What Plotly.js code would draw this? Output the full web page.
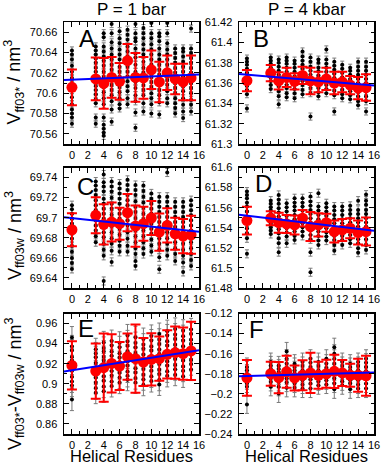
<!DOCTYPE html>
<html><head><meta charset="utf-8">
<script src="https://cdn.plot.ly/plotly-3.0.1.min.js"></script>
<style>html,body{margin:0;padding:0;background:#fff}#chart{width:382px;height:465px}</style>
</head><body><div id="chart"></div>
<script>
// ---------- DATA ----------
const residues = [0,3,4,5,6,7,8,9,10,11,12,13,14,15];
const xTicks = [0,2,4,6,8,10,12,14,16];
const fitX = [-1, 16];

// Panel A: V_ff03*, P = 1 bar
const redA = [70.6057,70.614,70.6096,70.6155,70.6116,70.632,70.6155,70.615,70.623,70.611,70.620,70.614,70.611,70.615];
const redErrA = [0.0175,0.021,0.025,0.020,0.018,0.0164,0.024,0.0205,0.019,0.020,0.017,0.015,0.018,0.022];
const fitA = [70.613, 70.6183];
const blackA = [
 [70.642,70.638,70.633,70.627,70.621,70.615,70.609,70.603,70.596,70.589,70.584,70.580,70.576,70.570],
 [70.646,70.642,70.638,70.634,70.630,70.625,70.621,70.617,70.612,70.607,70.603,70.599,70.594,70.590,70.576,70.570],
 [70.659,70.655,70.646,70.641,70.636,70.632,70.627,70.621,70.616,70.611,70.606,70.601,70.595,70.589,70.576,70.569,70.565,70.561,70.558],
 [70.668,70.659,70.650,70.644,70.638,70.633,70.628,70.623,70.618,70.613,70.608,70.603,70.598,70.592,70.584,70.572],
 [70.661,70.654,70.649,70.643,70.638,70.633,70.626,70.621,70.616,70.611,70.606,70.601,70.595,70.589,70.585],
 [70.6625,70.6575,70.6526,70.646,70.641,70.636,70.631,70.626,70.621,70.6165,70.6116,70.6067,70.6018,70.595,70.589],
 [70.668,70.659,70.654,70.651,70.644,70.639,70.635,70.628,70.621,70.6165,70.611,70.605,70.598,70.592,70.581,70.566],
 [70.664,70.659,70.654,70.648,70.643,70.638,70.631,70.625,70.620,70.615,70.608,70.603,70.598,70.590,70.582],
 [70.669,70.659,70.654,70.648,70.643,70.638,70.633,70.628,70.621,70.616,70.611,70.606,70.600,70.595,70.589,70.580],
 [70.659,70.656,70.651,70.644,70.638,70.633,70.628,70.623,70.618,70.613,70.608,70.603,70.598,70.591,70.579],
 [70.669,70.659,70.649,70.643,70.638,70.633,70.628,70.623,70.618,70.613,70.608,70.602,70.595,70.590],
 [70.644,70.6395,70.6346,70.630,70.6247,70.620,70.6149,70.610,70.605,70.600,70.595,70.590,70.5854,70.580],
 [70.644,70.641,70.636,70.631,70.626,70.621,70.6165,70.6116,70.6067,70.6018,70.595,70.5887,70.582,70.5755],
 [70.6635,70.644,70.6395,70.6346,70.630,70.6247,70.620,70.615,70.610,70.605,70.600,70.5936,70.5887,70.582]
];

// Panel B: V_ff03*, P = 4 kbar
const redB = [61.3623,61.3698,61.362,61.3655,61.3616,61.3675,61.362,61.361,61.364,61.360,61.361,61.358,61.355,61.3555];
const redErrB = [0.0105,0.008,0.0085,0.0095,0.008,0.0085,0.013,0.010,0.011,0.011,0.010,0.009,0.011,0.013];
const fitB = [61.3688, 61.3575];
const blackB = [
 [61.384,61.381,61.378,61.374,61.370,61.366,61.362,61.357,61.353,61.349,61.335],
 [61.385,61.382,61.379,61.375,61.372,61.369,61.3655,61.362,61.358,61.354],
 [61.383,61.380,61.376,61.372,61.368,61.364,61.360,61.357,61.352,61.347,61.339],
 [61.385,61.382,61.379,61.375,61.371,61.3665,61.362,61.358,61.355,61.350,61.346],
 [61.382,61.379,61.375,61.371,61.3665,61.362,61.358,61.354,61.350,61.345],
 [61.391,61.386,61.382,61.378,61.374,61.370,61.3655,61.362,61.358,61.353,61.349],
 [61.385,61.381,61.376,61.372,61.368,61.363,61.359,61.355,61.350,61.327],
 [61.383,61.380,61.375,61.3715,61.3675,61.363,61.359,61.355,61.351,61.347],
 [61.393,61.383,61.379,61.375,61.371,61.3665,61.362,61.358,61.354,61.350],
 [61.381,61.377,61.373,61.369,61.365,61.361,61.357,61.3525,61.348,61.332],
 [61.378,61.374,61.370,61.3655,61.3616,61.3577,61.3534,61.349,61.345],
 [61.375,61.372,61.368,61.364,61.360,61.3557,61.352,61.348,61.344],
 [61.381,61.376,61.372,61.368,61.364,61.360,61.356,61.351,61.347,61.342,61.338],
 [61.381,61.376,61.372,61.368,61.364,61.360,61.356,61.352,61.347,61.342,61.332]
];

// Panel C: V_ff03w, P = 1 bar
const redC = [69.688,69.7024,69.6934,69.6957,69.694,69.705,69.6917,69.694,69.6997,69.6856,69.6923,69.684,69.6816,69.683];
const redErrC = [0.0165,0.018,0.020,0.0195,0.016,0.0185,0.0205,0.017,0.017,0.0185,0.017,0.016,0.017,0.019];
const fitC = [69.7005, 69.686];
const blackC = [
 [69.7125,69.7085,69.704,69.699,69.694,69.689,69.684,69.679,69.672,69.666,69.660,69.655,69.649],
 [69.736,69.732,69.7276,69.7225,69.7175,69.7125,69.7075,69.7024,69.6974,69.6923,69.6873,69.6816,69.6756],
 [69.743,69.7353,69.731,69.726,69.719,69.714,69.709,69.704,69.699,69.6923,69.6856,69.6806,69.674,69.668,69.662,69.637],
 [69.736,69.731,69.726,69.720,69.714,69.709,69.703,69.6974,69.6917,69.6856,69.6796,69.674,69.667,69.656],
 [69.734,69.729,69.724,69.719,69.714,69.709,69.704,69.699,69.694,69.689,69.683,69.677,69.672,69.666],
 [69.7377,69.7326,69.7276,69.7225,69.7175,69.7125,69.7075,69.7024,69.6974,69.6923,69.6856,69.679,69.672,69.666],
 [69.7326,69.7276,69.7225,69.7165,69.7108,69.7058,69.6997,69.694,69.6873,69.6816,69.6756,69.6695,69.6638,69.657,69.652],
 [69.732,69.7266,69.7209,69.7152,69.7098,69.704,69.6984,69.693,69.6873,69.6816,69.6756,69.6695,69.6638],
 [69.7242,69.719,69.714,69.709,69.704,69.699,69.694,69.689,69.684,69.6783,69.6722,69.666],
 [69.7209,69.7158,69.7108,69.7058,69.7007,69.6957,69.6907,69.6856,69.6796,69.674,69.668,69.6605,69.6487],
 [69.745,69.7209,69.7158,69.7108,69.7058,69.7007,69.6957,69.6907,69.6856,69.6796,69.674,69.668,69.662],
 [69.7158,69.7108,69.7058,69.7007,69.6957,69.6907,69.6856,69.6806,69.6756,69.6695,69.6638,69.657],
 [69.7158,69.7108,69.7058,69.7007,69.6957,69.6907,69.6856,69.6796,69.674,69.668,69.662,69.6554,69.646],
 [69.7175,69.7125,69.7075,69.7024,69.6974,69.6923,69.6873,69.6816,69.6756,69.6695,69.6638,69.658,69.652]
];

// Panel D: V_ff03w, P = 4 kbar
const redD = [61.5471,61.5495,61.545,61.5438,61.5428,61.5495,61.5412,61.5428,61.545,61.5362,61.5378,61.5395,61.5352,61.5362];
const redErrD = [0.0137,0.007,0.010,0.009,0.0095,0.0083,0.0145,0.0116,0.009,0.011,0.011,0.010,0.012,0.014];
const fitD = [61.553, 61.537];
const blackD = [
 [61.576,61.5727,61.5694,61.565,61.5611,61.5561,61.5511,61.5452,61.5395,61.5345,61.5295,61.514],
 [61.567,61.5638,61.5604,61.5571,61.5538,61.5505,61.5471,61.5438,61.5405,61.5372,61.5338],
 [61.5727,61.5678,61.5638,61.5594,61.5551,61.5511,61.5471,61.5428,61.5385,61.5345,61.5295,61.5245,61.5157],
 [61.5644,61.5604,61.5561,61.5518,61.5478,61.5438,61.5395,61.5352,61.5312,61.5245],
 [61.5694,61.565,61.5611,61.5571,61.5528,61.5485,61.5445,61.5405,61.5362,61.5319,61.5279],
 [61.5694,61.565,61.5611,61.5571,61.5528,61.5485,61.5445,61.5405,61.5362,61.5319],
 [61.5711,61.5661,61.5618,61.5578,61.5538,61.5495,61.5452,61.5412,61.5372,61.5329,61.5285,61.5157,61.4957],
 [61.5744,61.5611,61.5571,61.5528,61.5485,61.5445,61.5405,61.5362,61.5319,61.5272,61.5229],
 [61.5644,61.5604,61.5561,61.5518,61.5478,61.5438,61.5395,61.5352,61.5312,61.5272],
 [61.5611,61.5571,61.5528,61.5485,61.5445,61.5405,61.5362,61.5319,61.5279,61.5229,61.5172],
 [61.5611,61.5571,61.5528,61.5485,61.5445,61.5405,61.5362,61.5319,61.5279,61.5229],
 [61.5618,61.5578,61.5538,61.5495,61.5452,61.5412,61.5372,61.5329,61.5285,61.5245],
 [61.567,61.5578,61.5538,61.5495,61.5452,61.5412,61.5372,61.5329,61.5285,61.5245,61.5196,61.5152],
 [61.573,61.567,61.5628,61.5578,61.5538,61.5495,61.5452,61.5412,61.5372,61.5329,61.5285,61.5229,61.5179]
];

// Panel E: V_ff03* - V_ff03w, P = 1 bar
const redE = [0.9183,0.9127,0.916,0.9203,0.9177,0.927,0.925,0.9217,0.9243,0.925,0.9293,0.931,0.930,0.9327];
const redErrE = [0.024,0.0275,0.034,0.029,0.024,0.023,0.034,0.024,0.026,0.022,0.024,0.026,0.026,0.029];
const fitE = [0.9122, 0.9333];
const blackE = [
 [0.946,0.9372,0.9331,0.9268,0.9231,0.9174,0.9129,0.9071,0.9024,0.8982,0.8843],
 [0.9343,0.9302,0.9264,0.9208,0.9163,0.9105,0.9062,0.9011,0.8957,0.8912],
 [0.9412,0.9357,0.9321,0.9266,0.9229,0.9171,0.9133,0.9074,0.9031,0.8972,0.8926],
 [0.9425,0.9381,0.9322,0.9279,0.9231,0.9169,0.9128,0.9081,0.9022,0.8979],
 [0.9408,0.9363,0.9305,0.9262,0.9214,0.9157,0.9109,0.9062,0.9012],
 [0.9481,0.9422,0.9379,0.9323,0.9281,0.9225,0.9182,0.9123,0.9079,0.9041],
 [0.9463,0.9405,0.9364,0.9306,0.9258,0.9214,0.9156,0.9112,0.9057,0.9013],
 [0.9445,0.9389,0.9348,0.9291,0.9246,0.9189,0.9147,0.9091,0.9046,0.8991],
 [0.9476,0.9431,0.9372,0.9331,0.9274,0.9232,0.9173,0.9131,0.9074,0.9028],
 [0.9495,0.9438,0.9397,0.9341,0.9297,0.9238,0.9196,0.9139,0.9097,0.9041,0.8994],
 [0.9524,0.9481,0.9423,0.9381,0.9323,0.9281,0.9224,0.9181,0.9124,0.9079],
 [0.9546,0.9489,0.9447,0.9389,0.9347,0.9289,0.9247,0.9188,0.9146,0.9091],
 [0.9528,0.9474,0.9431,0.9373,0.9331,0.9272,0.9231,0.9172,0.9131,0.9074],
 [0.9541,0.9497,0.9439,0.9396,0.9338,0.9297,0.9238,0.9196,0.9142]
];

// Panel F: V_ff03* - V_ff03w, P = 4 kbar
const redF = [-0.1842,-0.180,-0.1838,-0.178,-0.1842,-0.1815,-0.1792,-0.1815,-0.180,-0.1776,-0.1792,-0.1815,-0.1815,-0.182];
const redErrF = [0.0178,0.012,0.0155,0.016,0.0125,0.015,0.020,0.0135,0.014,0.0165,0.013,0.0115,0.0165,0.020];
const fitF = [-0.1824, -0.1788];
const blackF = [
 [-0.1733,-0.1766,-0.1799,-0.1832,-0.1865,-0.1897,-0.193,-0.2105],
 [-0.1684,-0.1717,-0.175,-0.1782,-0.1815,-0.1848,-0.1881,-0.193],
 [-0.1717,-0.175,-0.1782,-0.1815,-0.1848,-0.1881,-0.193,-0.1996],
 [-0.1578,-0.165,-0.170,-0.1743,-0.1782,-0.1815,-0.1848,-0.1888,-0.194],
 [-0.170,-0.1733,-0.1766,-0.1799,-0.1832,-0.1865,-0.1897,-0.194],
 [-0.1684,-0.1723,-0.1766,-0.1799,-0.1832,-0.1865,-0.1907,-0.1947],
 [-0.1651,-0.169,-0.1733,-0.1776,-0.1815,-0.1855,-0.1897,-0.1947],
 [-0.1684,-0.1723,-0.1766,-0.1799,-0.1832,-0.1875,-0.1914],
 [-0.1651,-0.170,-0.1743,-0.1782,-0.1822,-0.1865,-0.1907],
 [-0.1536,-0.1601,-0.1651,-0.170,-0.1749,-0.1799,-0.1848,-0.1897,-0.1955],
 [-0.1684,-0.1723,-0.1766,-0.1799,-0.1832,-0.1875,-0.1914],
 [-0.170,-0.1733,-0.1766,-0.1799,-0.1832,-0.1865,-0.1897,-0.1955],
 [-0.1684,-0.1723,-0.1766,-0.1799,-0.1832,-0.1865,-0.1907,-0.1947],
 [-0.1651,-0.169,-0.1733,-0.1776,-0.1815,-0.1855,-0.1897,-0.1947]
];

const blackErr = [0.0035, 0.0035, 0.004, 0.004, 0.011, 0.009];
const yRanges = [[70.55,70.67],[61.30,61.42],[69.63,69.75],[61.48,61.60],[0.85,0.97],[-0.24,-0.12]];
const panelLetters = ['A','B','C','D','E','F'];
const colTitles = ['P = 1 bar','P = 4 kbar'];
const yTitles = ['V<sub>ff03*</sub> / nm<sup>3</sup>','V<sub>ff03w</sub> / nm<sup>3</sup>','V<sub>ff03*</sub>-V<sub>ff03w</sub> / nm<sup>3</sup>'];
const xTitle = 'Helical Residues';

// ---------- LAYOUT / DRAWING ----------
const W = 382, H = 465;
const colPx = [[64,199],[239,374]];
const rowPx = [[22,144],[167.5,288],[313.5,434]];
const panels = [
  {black: blackA, red: redA, err: redErrA, fit: fitA},
  {black: blackB, red: redB, err: redErrB, fit: fitB},
  {black: blackC, red: redC, err: redErrC, fit: fitC},
  {black: blackD, red: redD, err: redErrD, fit: fitD},
  {black: blackE, red: redE, err: redErrE, fit: fitE},
  {black: blackF, red: redF, err: redErrF, fit: fitF}
];
const FONT = 'Liberation Sans, Arial, Helvetica, sans-serif';
const px = v => v / W, py = v => 1 - v / H;

const traces = [];
const layout = {
  width: W, height: H, margin: {l:0, r:0, t:0, b:0},
  paper_bgcolor: '#fff', plot_bgcolor: '#fff', showlegend: false,
  font: {family: FONT, color: '#000', size: 11},
  annotations: []
};

panels.forEach((p, i) => {
  const n = i + 1, row = Math.floor(i / 2), col = i % 2;
  const xa = n === 1 ? 'x' : 'x' + n, ya = n === 1 ? 'y' : 'y' + n;
  const xs = [], ys = [];
  p.black.forEach((c, k) => c.forEach(v => { xs.push(residues[k]); ys.push(v); }));
  traces.push({type: 'scatter', mode: 'markers', x: xs, y: ys, xaxis: xa, yaxis: ya,
    marker: {color: '#000', size: 4},
    error_y: {type: 'constant', value: blackErr[i], color: '#7a7a7a', thickness: 1, width: 2},
    hoverinfo: 'skip'});
  traces.push({type: 'scatter', mode: 'markers', x: residues, y: p.red, xaxis: xa, yaxis: ya,
    marker: {color: '#ff0000', size: 11},
    error_y: {type: 'data', array: p.err, color: '#ff0000', thickness: 2, width: 5}});
  traces.push({type: 'scatter', mode: 'lines', x: fitX, y: p.fit, xaxis: xa, yaxis: ya,
    line: {color: '#0000ff', width: 2}});

  const axCommon = {showline: true, linecolor: '#000', linewidth: 1.5, mirror: 'ticks',
    ticks: 'inside', ticklen: 5, tickwidth: 1, tickcolor: '#000', showgrid: false, zeroline: false,
    tickfont: {size: 11, family: FONT, color: '#000'}};
  layout[(n === 1 ? 'xaxis' : 'xaxis' + n)] = Object.assign({}, axCommon, {
    domain: [px(colPx[col][0]), px(colPx[col][1])], anchor: ya, range: [-1, 16],
    tickvals: xTicks, minor: {dtick: 1, ticklen: 3, ticks: 'inside', tickcolor: '#000'}});
  layout[(n === 1 ? 'yaxis' : 'yaxis' + n)] = Object.assign({}, axCommon, {
    domain: [py(rowPx[row][1]), py(rowPx[row][0])], anchor: xa, range: yRanges[i],
    dtick: 0.02, tick0: 0, ticklabelstandoff: 3,
    minor: {dtick: 0.01, ticklen: 3, ticks: 'inside', tickcolor: '#000'}});
});

const letterPos = [[77,38.5],[251,38.5],[75,186.5],[253,183.5],[76,328.5],[247,329]];
panelLetters.forEach((t, i) => layout.annotations.push({text: t, xref: 'paper', yref: 'paper',
  x: px(letterPos[i][0]), y: py(letterPos[i][1]), xanchor: 'left', yanchor: 'middle',
  showarrow: false, font: {size: 24, family: FONT, color: '#000'}}));
colTitles.forEach((t, c) => layout.annotations.push({text: t, xref: 'paper', yref: 'paper',
  x: px((colPx[c][0] + colPx[c][1]) / 2), y: py(9.5), xanchor: 'center', yanchor: 'middle',
  showarrow: false, borderpad: 0, font: {size: 17, family: FONT, color: '#000'}}));
[0,1].forEach(c => layout.annotations.push({text: xTitle, xref: 'paper', yref: 'paper',
  x: px((colPx[c][0] + colPx[c][1]) / 2), y: py(456), xanchor: 'center', yanchor: 'middle',
  showarrow: false, borderpad: 0, font: {size: 16.5, family: FONT, color: '#000'}}));
const yTitleY = [82.5, 236, 384];
yTitles.forEach((t, r) => layout.annotations.push({text: t, xref: 'paper', yref: 'paper',
  x: px(14), y: py(yTitleY[r]), xanchor: 'center', yanchor: 'middle', textangle: -90,
  showarrow: false, font: {size: 18, family: FONT, color: '#000'}}));

Plotly.newPlot('chart', traces, layout, {staticPlot: true, displayModeBar: false});
</script>
</body></html>
